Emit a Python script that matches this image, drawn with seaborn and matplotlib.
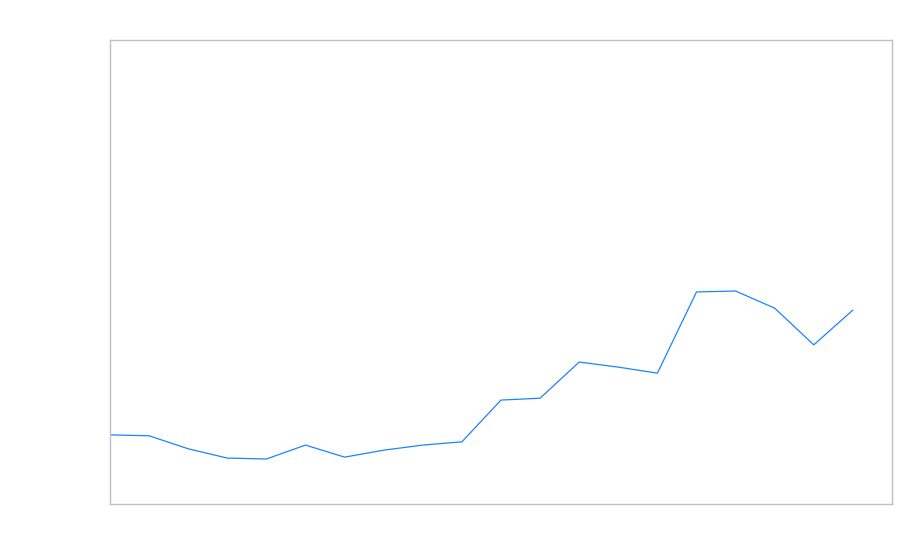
import matplotlib
matplotlib.use("Agg")
import matplotlib.pyplot as plt
import seaborn as sns
import pandas as pd

# values (no labels shown in the chart)
steps = list(range(20))
values = [14.9, 14.7, 11.9, 9.9, 9.7, 12.7, 10.1, 11.6, 12.7, 13.4,
          22.4, 22.8, 30.6, 29.5, 28.2, 45.7, 45.9, 42.2, 34.3, 41.8]

df = pd.DataFrame({"step": steps, "value": values})

sns.set_style("white")
fig = plt.figure(figsize=(9, 5.6), dpi=100)
ax = fig.add_axes([110 / 900, 56 / 560, 782 / 900, 464 / 560])

sns.lineplot(data=df, x="step", y="value", ax=ax, color="#1a84ff", linewidth=0.9)

ax.set_xlim(0, 20)
ax.set_ylim(0, 100)
ax.set_xticks([])
ax.set_yticks([])
ax.set_xlabel("")
ax.set_ylabel("")
for s in ax.spines.values():
    s.set_color("#bfbfbf")
    s.set_linewidth(1)

fig.savefig("out.png", dpi=100)
